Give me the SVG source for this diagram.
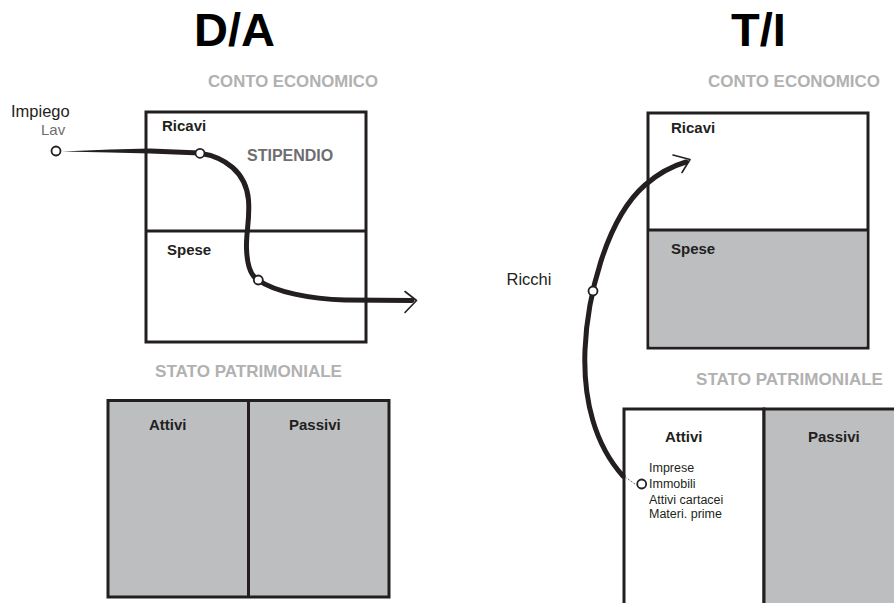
<svg xmlns="http://www.w3.org/2000/svg" width="894" height="603" viewBox="0 0 894 603">
<style>
.box{fill:#ffffff;stroke:#231f20;stroke-width:3}
.gray{fill:#bcbec0;stroke:#231f20;stroke-width:3}
.div{stroke:#231f20;stroke-width:3;fill:none}
.title{font-family:"Liberation Sans",Arial,sans-serif;font-weight:bold;font-size:47px;fill:#000}
.hdr{font-family:"Liberation Sans",Arial,sans-serif;font-weight:bold;font-size:16.7px;fill:#b1b1b1}
.lbl{font-family:"Liberation Sans",Arial,sans-serif;font-weight:bold;font-size:15px;fill:#231f20}
.reg{font-family:"Liberation Sans",Arial,sans-serif;font-size:16.5px;fill:#231f20}
.mid{font-family:"Liberation Sans",Arial,sans-serif;font-size:15px;fill:#6d6e71}
.midb{font-family:"Liberation Sans",Arial,sans-serif;font-weight:bold;font-size:16px;fill:#6d6e71}
.small{font-family:"Liberation Sans",Arial,sans-serif;font-size:12.5px;fill:#231f20}
.flow{fill:none;stroke:#231f20;stroke-width:5;stroke-linecap:round;stroke-linejoin:round}
.head{fill:none;stroke:#231f20;stroke-width:1.6;stroke-linecap:round;stroke-linejoin:round}
.dot{fill:#ffffff;stroke:#231f20;stroke-width:1.8}
</style>
<rect width="894" height="603" fill="#ffffff"/>

<g id="title-da"><text class="title" x="234.5" y="46" text-anchor="middle">D/A</text></g>
<g id="title-ti"><text class="title" x="758.5" y="46" text-anchor="middle">T/I</text></g>

<g id="left-conto">
  <text class="hdr" x="208" y="87" textLength="170" lengthAdjust="spacingAndGlyphs">CONTO ECONOMICO</text>
  <rect class="box" x="146" y="112" width="220" height="230"/>
  <line class="div" x1="146" y1="231" x2="366" y2="231"/>
  <text class="lbl" x="162" y="131">Ricavi</text>
  <text class="midb" x="247" y="161">STIPENDIO</text>
  <text class="lbl" x="167" y="255">Spese</text>
</g>

<g id="left-stato">
  <text class="hdr" x="155" y="377" textLength="187" lengthAdjust="spacingAndGlyphs">STATO PATRIMONIALE</text>
  <rect class="gray" x="108" y="400.5" width="281" height="196.5"/>
  <line class="div" x1="248.5" y1="400.5" x2="248.5" y2="597"/>
  <text class="lbl" x="149" y="430">Attivi</text>
  <text class="lbl" x="289" y="430">Passivi</text>
</g>

<g id="right-conto">
  <text class="hdr" x="708" y="87" textLength="172" lengthAdjust="spacingAndGlyphs">CONTO ECONOMICO</text>
  <rect class="box" x="648" y="113" width="220" height="235"/>
  <rect x="649.5" y="230" width="217" height="116.5" fill="#bcbec0"/>
  <line class="div" x1="648" y1="230" x2="868" y2="230"/>
  <text class="lbl" x="671" y="133">Ricavi</text>
  <text class="lbl" x="671" y="254">Spese</text>
</g>

<g id="right-stato">
  <text class="hdr" x="696" y="385" textLength="187" lengthAdjust="spacingAndGlyphs">STATO PATRIMONIALE</text>
  <rect class="box" x="624" y="409" width="140" height="200"/>
  <rect class="gray" x="764" y="409" width="140" height="200"/>
  <text class="lbl" x="665" y="442">Attivi</text>
  <text class="lbl" x="808" y="442">Passivi</text>
  <text class="small" x="649" y="472">Imprese</text>
  <text class="small" x="649" y="488">Immobili</text>
  <text class="small" x="649" y="504">Attivi cartacei</text>
  <text class="small" x="649" y="517.5">Materi. prime</text>
</g>

<g id="label-impiego">
  <text class="reg" x="11" y="116.5" font-size="15.8">Impiego</text>
  <text class="mid" x="41" y="134.5">Lav</text>
</g>
<g id="label-ricchi">
  <text class="reg" x="506.5" y="285">Ricchi</text>
</g>

<g id="connectors">
  <path d="M 62 151.5 L 110 149.6 L 150 148.6 L 200 150.6 L 200 155.6 L 150 153.6 L 110 152.6 Z" fill="#231f20"/>
  <path class="flow" d="M 199 153 C 225 157, 246 172, 248.5 200 C 250 220, 246 232, 246.5 248 C 247 266, 251 276, 258 280 C 275 292, 310 299, 345 300 L 412 300.5"/>
  <path class="head" d="M 405 291.5 L 416.5 300.5 L 405 312.5"/>
  <path class="flow" d="M 623 476 C 595 445, 583 400, 585 350 C 587 300, 605 220, 645 185 C 660 172, 672 166, 686 162"/>
  <path class="head" d="M 673 155 L 690 159.5 L 682 172.5"/>
  <line x1="625" y1="477" x2="635" y2="484" stroke="#6d6e71" stroke-width="1" stroke-dasharray="2 1.5"/>
  <circle class="dot" cx="56" cy="151" r="4.5"/>
  <circle class="dot" cx="200" cy="153.3" r="4.5"/>
  <circle class="dot" cx="258.3" cy="280" r="4.5"/>
  <circle class="dot" cx="593" cy="291" r="4.5"/>
  <circle class="dot" cx="641.7" cy="484" r="4.5"/>
</g>
</svg>
